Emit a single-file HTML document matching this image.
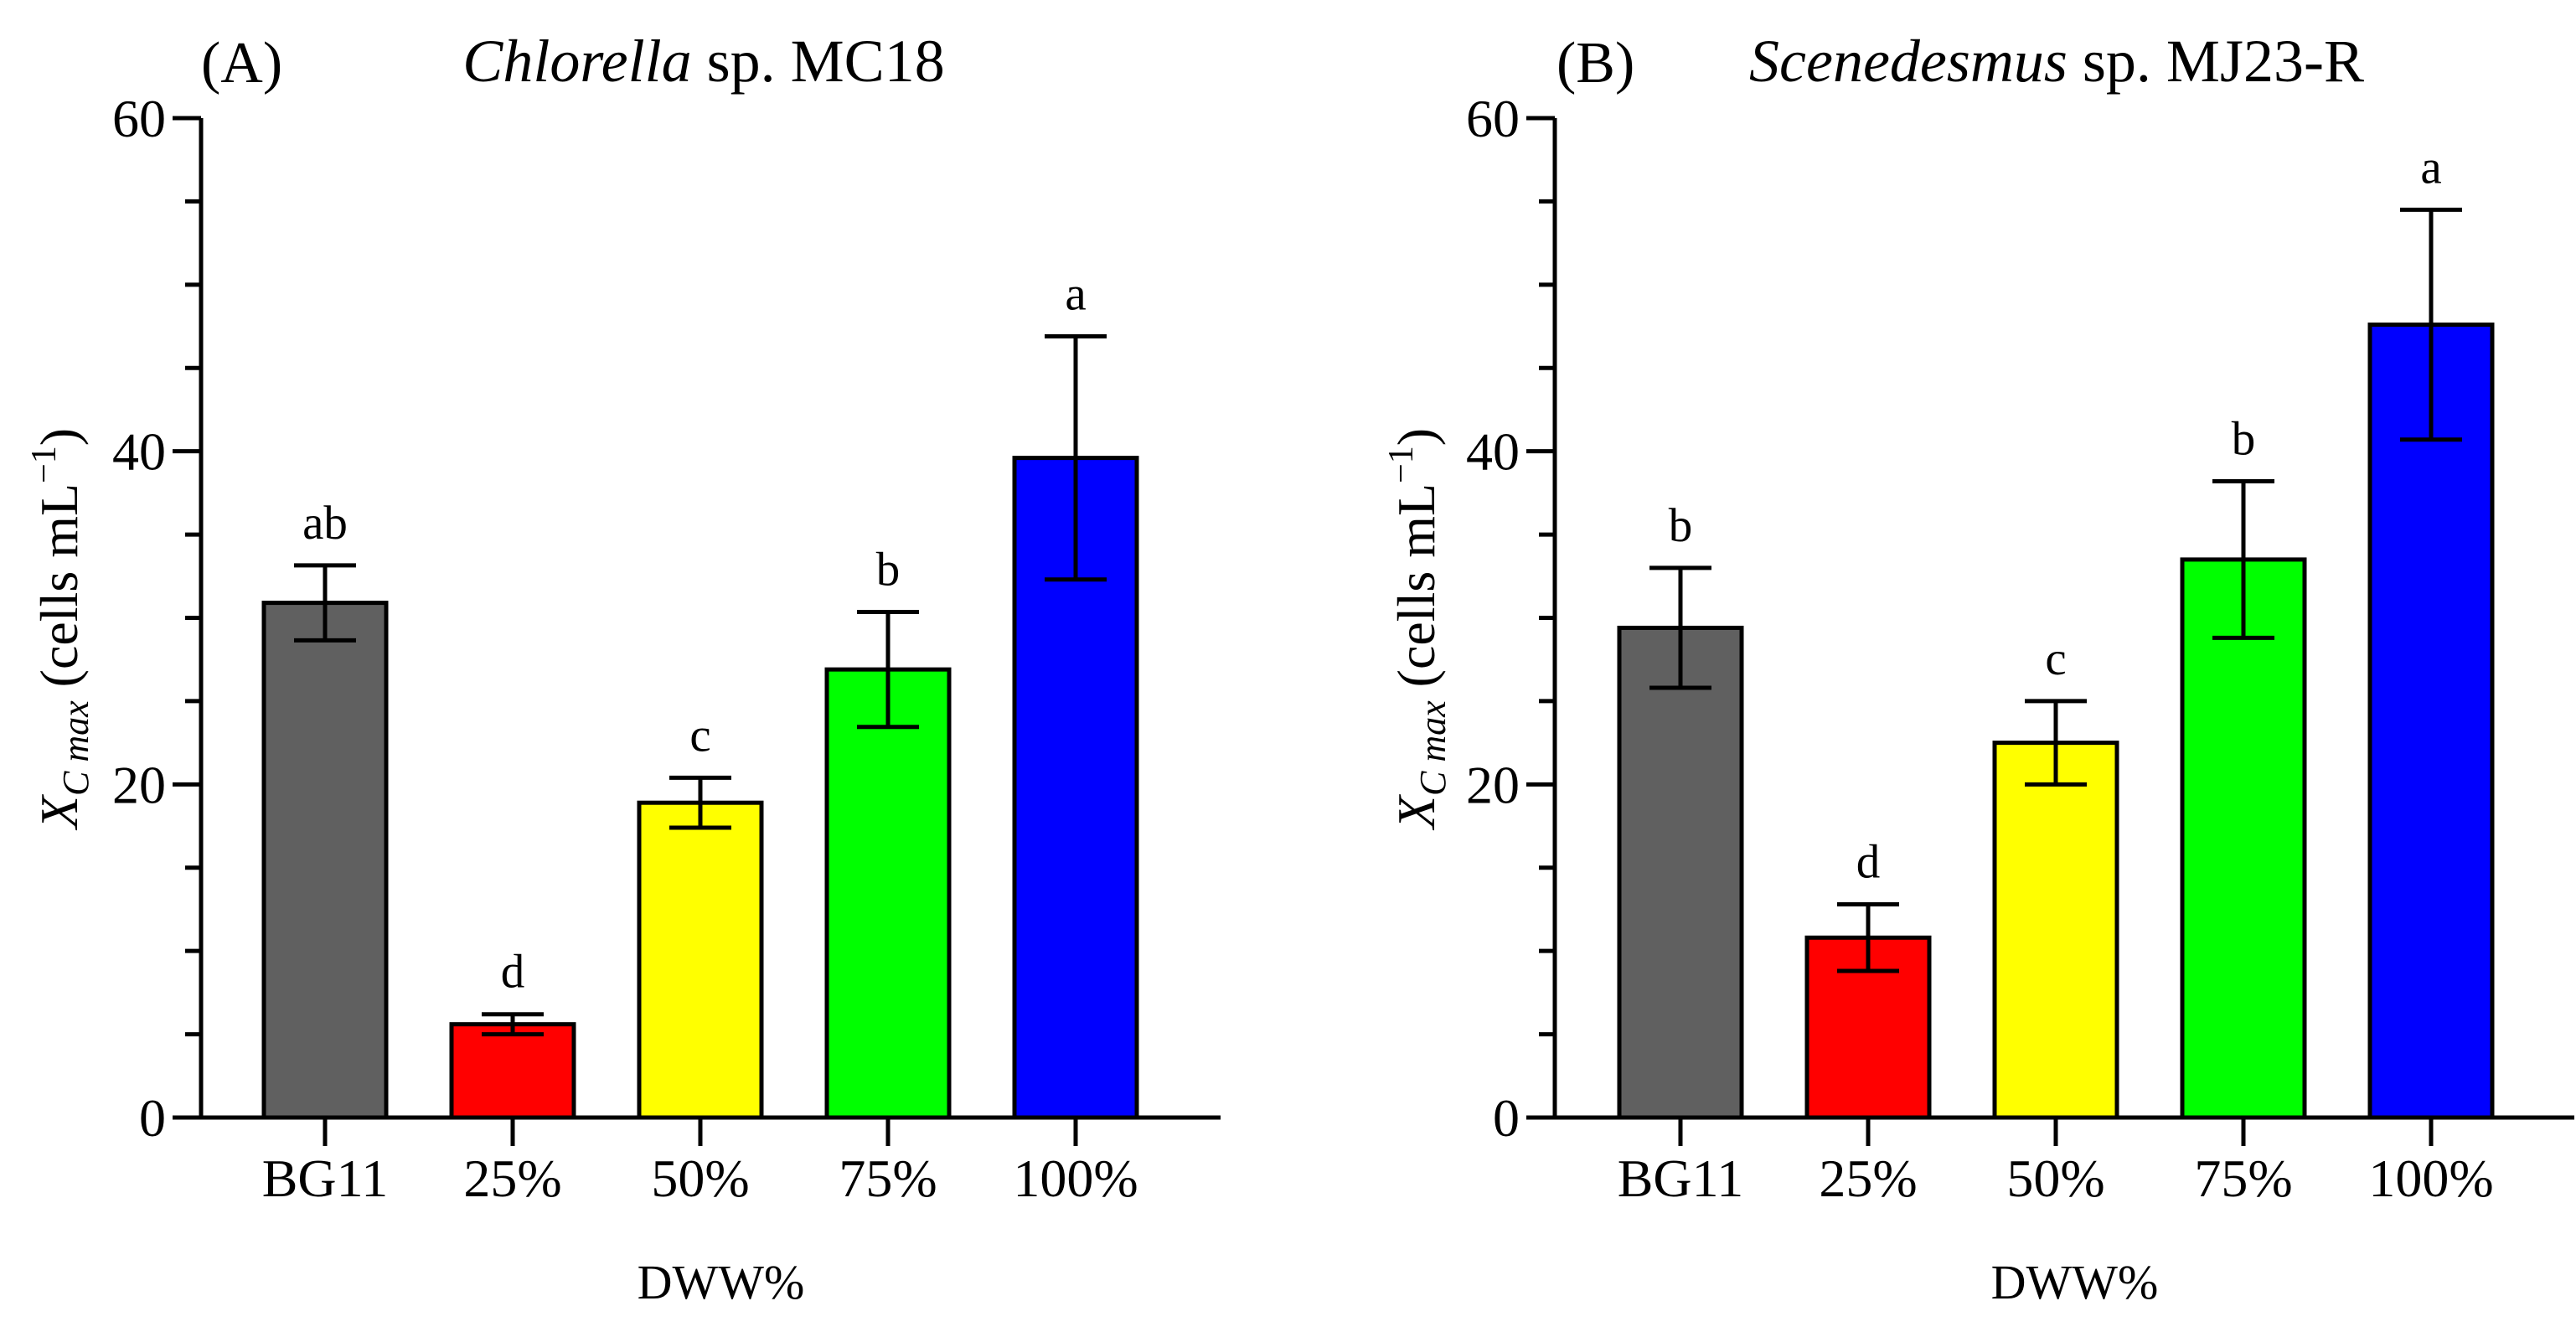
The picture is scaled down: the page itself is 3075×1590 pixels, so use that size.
<!DOCTYPE html>
<html><head><meta charset="utf-8"><style>
html,body{margin:0;padding:0;background:#fff;}
svg{display:block;font-family:"Liberation Serif",serif;}
</style></head><body>
<svg id="c" width="3075" height="1590" viewBox="0 0 3075 1590" xmlns="http://www.w3.org/2000/svg"></svg>
<script>
const categories=["BG11","25%","50%","75%","100%"];
const colors=["#606060","#ff0000","#ffff00","#00ff00","#0000ff"];
const valuesA=[30.9,5.6,18.9,26.9,39.6];
const errorsA=[2.25,0.6,1.5,3.45,7.3];
const lettersA=["ab","d","c","b","a"];
const valuesB=[29.4,10.8,22.5,33.5,47.6];
const errorsB=[3.6,2.0,2.5,4.7,6.9];
const lettersB=["b","d","c","b","a"];
const yTicks=[0,20,40,60];

const NS="http://www.w3.org/2000/svg";
const svg=document.getElementById('c');
function mk(tag,attrs,parent,text){const e=document.createElementNS(NS,tag);for(const k in attrs)e.setAttribute(k,attrs[k]);if(text!==undefined)e.textContent=text;(parent||svg).appendChild(e);return e;}

function panel(id,ax,axEnd,firstCenter,step,vals,errs,letters,tag,tagX,title,titleX,ylabX){
  const g=mk('g',{});
  
  
  const y0=1334,yTop=141,pxPer=(y0-yTop)/60;
  const y=v=>y0-v*pxPer;
  const x=i=>firstCenter+i*step;
  const bw=146;
  vals.forEach((v,i)=>{
    const r=mk('rect',{x:x(i)-bw/2,y:y(v),width:bw,height:y0-y(v),fill:colors[i],stroke:'#000','stroke-width':5},g);
    
    
    const eb=mk('path',{d:`M${x(i)} ${y(v+errs[i])}V${y(v-errs[i])}M${x(i)-37} ${y(v+errs[i])}H${x(i)+37}M${x(i)-37} ${y(v-errs[i])}H${x(i)+37}`,stroke:'#000','stroke-width':5,fill:'none'},g);
    
    
    const lt=mk('text',{x:x(i),y:y(v+errs[i])-32,'text-anchor':'middle','font-size':57},g,letters[i]);
    
    
    const tk=mk('line',{x1:x(i),x2:x(i),y1:y0,y2:y0+34,stroke:'#000','stroke-width':5},g);
    
    
    const tl=mk('text',{x:x(i),y:1428,'text-anchor':'middle','font-size':64},g,categories[i]);
    
    
  });
  for(let v=0;v<=60;v+=5){
    const major=v%20===0;
    const t=mk('line',{x1:major?ax-34:ax-19,x2:ax,y1:y(v),y2:y(v),stroke:'#000','stroke-width':5},g);
    
    
  }
  yTicks.forEach(v=>{
    const t=mk('text',{x:ax-42,y:y(v)+22,'text-anchor':'end','font-size':64},g,String(v));
    
    
  });
  const axes=mk('path',{d:`M${ax} ${yTop}V${y0}H${axEnd}`,stroke:'#000','stroke-width':5,fill:'none'},g);
  
  
  const pt=mk('text',{x:tagX,y:98,'font-size':70},g,tag);
  
  
  const tt=mk('text',{x:titleX,y:97,'text-anchor':'middle','font-size':72},g);
  
  
  mk('tspan',{'font-style':'italic'},tt,title[0]);
  mk('tspan',{},tt,title[1]);
  const xl=mk('text',{x:(ax+axEnd)/2+12,y:1550,'text-anchor':'middle','font-size':58},g,'DWW%');
  
  
  const yl=mk('text',{x:0,y:0,'text-anchor':'middle','font-size':64,transform:`translate(${ylabX},750) rotate(-90)`},g);
  
  
  mk('tspan',{'font-style':'italic'},yl,'X');
  mk('tspan',{'font-style':'italic','font-size':44,dy:13},yl,'C max');
  mk('tspan',{dy:-13},yl,' (cells mL');
  mk('tspan',{'font-size':42,dy:-26},yl,'−1');
  mk('tspan',{dy:26},yl,')');
}
panel('a',240,1457,388,224,valuesA,errorsA,lettersA,'(A)',240,['Chlorella',' sp. MC18'],840,92);
panel('b',1856,3073,2006,224,valuesB,errorsB,lettersB,'(B)',1858,['Scenedesmus',' sp. MJ23-R'],2455,1712);
</script>
</body></html>
